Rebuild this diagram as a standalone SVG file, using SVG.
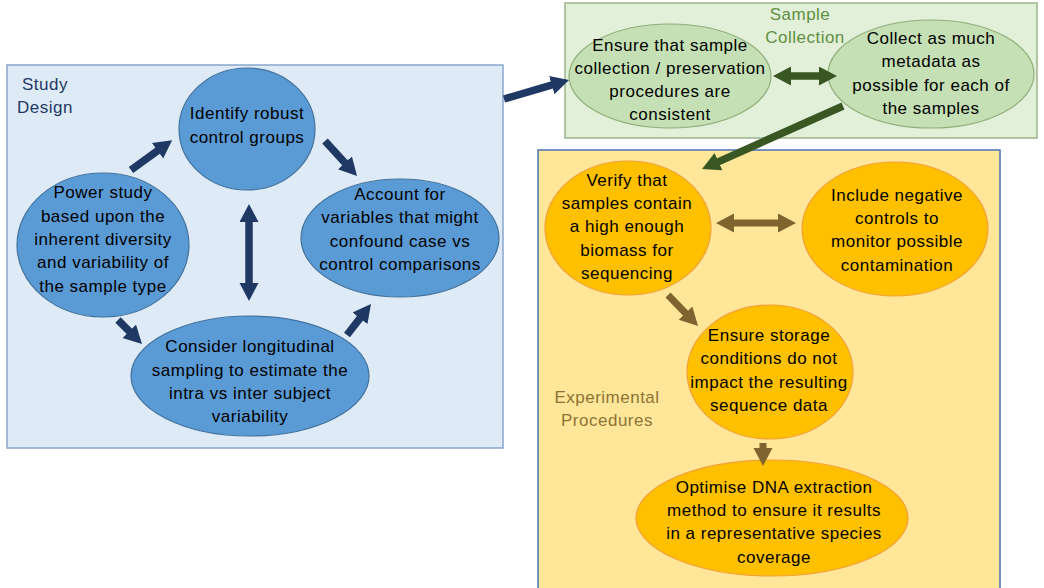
<svg xmlns="http://www.w3.org/2000/svg" width="1044" height="588" viewBox="0 0 1044 588">
<style>
text{font-family:"Liberation Sans",Arial,sans-serif;font-size:17px;letter-spacing:0.5px;text-anchor:middle;fill:#000}
.blueE{fill:#5b9bd5;stroke:#41719c;stroke-width:1.2}
.greenE{fill:#c5e0b4;stroke:#8fae78;stroke-width:1.2}
.yelE{fill:#ffc000;stroke:#f2a03b;stroke-width:1.2}
.navy{stroke:#1f3864;stroke-width:7.5;fill:none}
.grn{stroke:#385723;stroke-width:7.5;fill:none}
.brn{stroke:#7f6430;stroke-width:7;fill:none}
</style>
<defs>
<marker id="hN" markerUnits="userSpaceOnUse" markerWidth="20" markerHeight="20" refX="4" refY="9.5" orient="auto-start-reverse"><path d="M0,0 L18,9.5 L0,19 z" fill="#1f3864"/></marker>
<marker id="hG" markerUnits="userSpaceOnUse" markerWidth="20" markerHeight="20" refX="4" refY="9.5" orient="auto-start-reverse"><path d="M0,0 L18,9.5 L0,19 z" fill="#385723"/></marker>
<marker id="hB" markerUnits="userSpaceOnUse" markerWidth="20" markerHeight="20" refX="4" refY="9.5" orient="auto-start-reverse"><path d="M0,0 L18,9.5 L0,19 z" fill="#7f6430"/></marker>
</defs>

<g id="study-design">
<rect x="7" y="65" width="496" height="383" fill="#deebf7" stroke="#8aa6cc" stroke-width="1.5"/>
<text x="45" y="90" style="fill:#1f3864">Study</text>
<text x="45" y="113" style="fill:#1f3864">Design</text>
</g>
<g id="sample-collection">
<rect x="565" y="3" width="472" height="135" fill="#e2f0d9" stroke="#9ab58a" stroke-width="1.5"/>
<text x="800" y="20" style="fill:#5f8f3f">Sample</text>
<text x="805" y="43" style="fill:#5f8f3f">Collection</text>
</g>
<g id="experimental-procedures">
<rect x="538" y="150" width="462" height="442" fill="#ffe699" stroke="#4a72b8" stroke-width="1.5"/>
<text x="607" y="403" style="fill:#8d7434">Experimental</text>
<text x="607" y="426" style="fill:#8d7434">Procedures</text>
</g>

<g id="node-identify">
<ellipse class="blueE" cx="247" cy="129" rx="68" ry="61"/>
<text x="247" y="119">Identify robust</text>
<text x="247" y="143">control groups</text>
</g>
<g id="node-power">
<ellipse class="blueE" cx="103" cy="245" rx="86" ry="72"/>
<text x="103" y="198">Power study</text>
<text x="103" y="222">based upon the</text>
<text x="103" y="245">inherent diversity</text>
<text x="103" y="268">and variability of</text>
<text x="103" y="292">the sample type</text>
</g>
<g id="node-account">
<ellipse class="blueE" cx="400" cy="238" rx="99" ry="59"/>
<text x="400" y="200">Account for</text>
<text x="400" y="223">variables that might</text>
<text x="400" y="247">confound case vs</text>
<text x="400" y="270">control comparisons</text>
</g>
<g id="node-consider">
<ellipse class="blueE" cx="250" cy="376" rx="119" ry="60"/>
<text x="250" y="352">Consider longitudinal</text>
<text x="250" y="376">sampling to estimate the</text>
<text x="250" y="399">intra vs inter subject</text>
<text x="250" y="422">variability</text>
</g>
<g id="node-ensure-sample">
<ellipse class="greenE" cx="670" cy="76" rx="101" ry="52"/>
<text x="670" y="51">Ensure that sample</text>
<text x="670" y="74">collection / preservation</text>
<text x="670" y="97">procedures are</text>
<text x="670" y="120">consistent</text>
</g>
<g id="node-collect">
<ellipse class="greenE" cx="931" cy="74" rx="103" ry="54"/>
<text x="931" y="44">Collect as much</text>
<text x="931" y="67">metadata as</text>
<text x="931" y="91">possible for each of</text>
<text x="931" y="114">the samples</text>
</g>
<g id="node-verify">
<ellipse class="yelE" cx="628" cy="228" rx="83" ry="67"/>
<text x="627" y="186">Verify that</text>
<text x="627" y="209">samples contain</text>
<text x="627" y="232">a high enough</text>
<text x="627" y="256">biomass for</text>
<text x="627" y="279">sequencing</text>
</g>
<g id="node-include">
<ellipse class="yelE" cx="895" cy="229" rx="93" ry="67"/>
<text x="897" y="201">Include negative</text>
<text x="897" y="224">controls to</text>
<text x="897" y="247">monitor possible</text>
<text x="897" y="271">contamination</text>
</g>
<g id="node-storage">
<ellipse class="yelE" cx="770" cy="372" rx="83" ry="67"/>
<text x="769" y="341">Ensure storage</text>
<text x="769" y="364">conditions do not</text>
<text x="769" y="388">impact the resulting</text>
<text x="769" y="411">sequence data</text>
</g>
<g id="node-optimise">
<ellipse class="yelE" cx="772" cy="518" rx="136" ry="58"/>
<text x="774" y="493">Optimise DNA extraction</text>
<text x="774" y="516">method to ensure it results</text>
<text x="774" y="539">in a representative species</text>
<text x="774" y="563">coverage</text>
</g>

<g id="connectors">
<line class="navy" x1="131" y1="170" x2="160.8" y2="148.4" marker-end="url(#hN)"/>
<line class="navy" x1="325" y1="141" x2="347.6" y2="165.7" marker-end="url(#hN)"/>
<line class="navy" x1="118" y1="320" x2="132.1" y2="334.1" marker-end="url(#hN)"/>
<line class="navy" x1="347" y1="335" x2="362.4" y2="315.1" marker-end="url(#hN)"/>
<line class="navy" x1="249" y1="218" x2="249" y2="287" marker-start="url(#hN)" marker-end="url(#hN)"/>
<line class="navy" x1="504" y1="99" x2="555.6" y2="83.9" marker-end="url(#hN)"/>
<line class="grn" x1="787" y1="76" x2="823" y2="76" marker-start="url(#hG)" marker-end="url(#hG)"/>
<line class="grn" x1="843" y1="106" x2="714.8" y2="163.3" stroke-width="6" marker-end="url(#hG)"/>
<line class="brn" x1="730" y1="223" x2="782" y2="223" marker-start="url(#hB)" marker-end="url(#hB)"/>
<line class="brn" x1="668" y1="295" x2="688.3" y2="316" marker-end="url(#hB)"/>
<line class="brn" x1="763" y1="443" x2="763" y2="452" stroke-width="9" marker-end="url(#hB)"/>
</g>
</svg>
